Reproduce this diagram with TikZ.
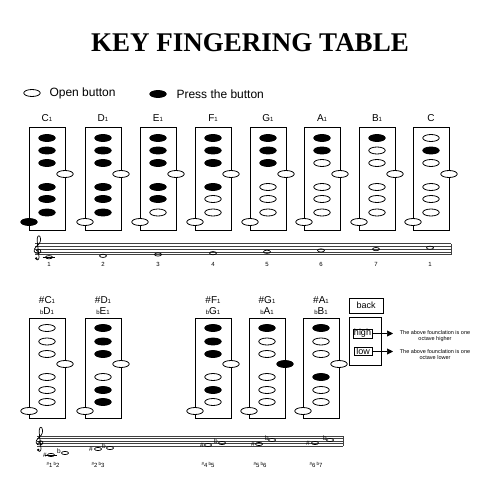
\documentclass[tikz,border=0pt]{standalone}
\usepackage{fontspec}
\setmainfont{Liberation Sans}
\newfontfamily\titlefont{Liberation Serif}
\usetikzlibrary{positioning,shapes.geometric,arrows.meta}

\newcommand{\sn}[1]{{\fontsize{6}{6}\selectfont #1}}
\newcommand{\acc}[1]{\raisebox{1.5pt}{\fontsize{4.5}{4.5}\selectfont #1}}

% treble clef: x, y of the bottom staff line
\newcommand{\gclef}[2]{%
  \begin{scope}[shift={(#1pt,-#2pt)},x=5pt,y=3pt]
    \draw[line width=0.7pt] (0.55,1.0)
      .. controls (0.2,1.0) and (0.2,1.7) .. (0.65,1.75)
      .. controls (1.3,1.8) and (1.4,0.5) .. (0.65,0.35)
      .. controls (-0.3,0.2) and (-0.4,1.7) .. (0.2,2.5)
      .. controls (0.7,3.2) and (1.2,4.0) .. (1.1,5.3)
      .. controls (1.05,6.6) and (0.5,6.5) .. (0.45,5.3)
      .. controls (0.4,4.0) and (0.75,0.5) .. (0.8,-1.0)
      .. controls (0.85,-2.0) and (0.1,-2.0) .. (0.1,-1.3);
    \fill (0.25,-1.3) circle (1.3pt);
  \end{scope}}

\begin{document}
\begin{tikzpicture}[x=1pt,y=-1pt,
    keybox/.style={draw,line width=0.7pt,minimum width=36pt,inner sep=0},
    keyo/.style={ellipse,draw,fill=white,line width=0.8pt,minimum width=16.5pt,minimum height=7pt,inner sep=0},
    keyp/.style={keyo,fill=black},
    collab/.style={font=\fontsize{10}{10}\selectfont,inner sep=0},
    whole/.style={ellipse,draw,line width=0.7pt,minimum width=7pt,minimum height=3.2pt,inner sep=0},
    numlab/.style={font=\fontsize{6}{6}\selectfont,inner sep=0},
    accid/.style={font=\fontsize{6.5}{6.5}\selectfont,inner sep=0},
    staffline/.style={line width=0.5pt,black!75}]

   \useasboundingbox (0,0) rectangle (500,500);
   \fill[white] (0,0) rectangle (500,500);

   \node[font=\titlefont\bfseries\fontsize{27}{27}\selectfont] at (250,43) (title) {KEY FINGERING TABLE};

   % legend
   \node[keyo] at (32,93) (lopen) {};
   \node[anchor=west,font=\fontsize{12}{12}\selectfont] at (46,93) (lopentxt) {Open button};
   \node[keyp] at (158,94) (lpress) {};
   \node[anchor=west,font=\fontsize{12}{12}\selectfont] at (173,94) (lpresstxt) {Press the button};

   % first row
   \foreach \cx/\nm/\lab/\ks in {47/c1/C\sn1/{p,p,p,o,p,p,p,p},
                                 103/d1/D\sn1/{p,p,p,o,p,p,p,o},
                                 158/e1/E\sn1/{p,p,p,o,p,p,o,o},
                                 213/f1/F\sn1/{p,p,p,o,p,o,o,o},
                                 268/g1/G\sn1/{p,p,p,o,o,o,o,o},
                                 322/a1/A\sn1/{p,p,o,o,o,o,o,o},
                                 377/b1/B\sn1/{p,o,o,o,o,o,o,o},
                                 431/c2/C/{o,p,o,o,o,o,o,o}} {
     \node[collab] at (\cx,118) (\nm-lab) {\lab};
     \node[keybox,minimum height=103pt] at (\cx,178.5) (\nm) {};
     \foreach \st [count=\k] in \ks {
       \pgfmathsetmacro\dx{{0,0,0,18,0,0,0,-18}[\k-1]}
       \pgfmathsetmacro\dy{{11,23.5,36,47,60,72,85.5,95}[\k-1]}
       \node[key\st] at (\cx+\dx,127+\dy) (\nm-\k) {};
     }
   }

   % first staff
   \foreach \i in {0,...,4}
     \draw[staffline] (35,{254.5-2.7*\i}) -- (451,{254.5-2.7*\i});
   \draw[staffline] (451,254.5) -- (451,243.7);
   \gclef{35}{254.5}
   \foreach \nx/\ny/\num [count=\k] in {49/257.2/1,103/255.85/2,158/254.5/3,213/253.15/4,
                                        267/251.8/5,321/250.45/6,376/249.1/7,430/247.75/1} {
     \node[whole] at (\nx,\ny) (n\k) {};
     \node[numlab] at (\nx,264) (num\k) {\num};
   }
   \draw[line width=0.6pt] ([xshift=-2.5pt]n1.west) -- ([xshift=2.5pt]n1.east);

   % second row
   \foreach \cx/\nm/\laba/\labb/\ks in {47/cis/\#C\sn1/\sn{b}D\sn1/{o,o,o,o,o,o,o,o},
                                        103/dis/\#D\sn1/\sn{b}E\sn1/{p,p,p,o,o,p,p,o},
                                        213/fis/\#F\sn1/\sn{b}G\sn1/{p,p,p,o,o,p,o,o},
                                        267/gis/\#G\sn1/\sn{b}A\sn1/{p,o,o,p,o,o,o,o},
                                        321/ais/\#A\sn1/\sn{b}B\sn1/{p,o,o,o,p,o,o,o}} {
     \node[collab] at (\cx,300) (\nm-laba) {\laba};
     \node[collab] at (\cx,311) (\nm-labb) {\labb};
     \node[keybox,minimum height=100pt] at (\cx,368) (\nm) {};
     \foreach \st [count=\k] in \ks {
       \pgfmathsetmacro\dx{{0,0,0,18,0,0,0,-18}[\k-1]}
       \pgfmathsetmacro\dy{{10,23.5,36,46,59,72,84,93}[\k-1]}
       \node[key\st] at (\cx+\dx,318+\dy) (\nm-\k) {};
     }
   }

   % back / high / low
   \node[draw,line width=0.6pt,minimum width=34pt,minimum height=15pt,font=\fontsize{9}{9}\selectfont] at (366,305.5) (back) {back};
   \node[draw,line width=0.6pt,minimum width=32pt,minimum height=48pt] at (365,341) (octbox) {};
   \node[draw,line width=0.6pt,inner sep=0.5pt,minimum width=19pt,font=\fontsize{9}{9}\selectfont] at (362.5,333.5) (high) {high};
   \node[draw,line width=0.6pt,inner sep=0.5pt,minimum width=18pt,font=\fontsize{9}{9}\selectfont] at (363,351.5) (low) {low};
   \coordinate (hightip) at (393,333.5);
   \coordinate (lowtip) at (393,351.5);
   \draw[line width=0.6pt,-{Triangle[length=6pt,width=6pt]}] (high) -- (hightip);
   \draw[line width=0.6pt,-{Triangle[length=6pt,width=6pt]}] (low) -- (lowtip);
   \node[align=center,font=\fontsize{5.5}{6.5}\selectfont] at (435,336) (hightxt) {The above founclation is one\\octave higher};
   \node[align=center,font=\fontsize{5.5}{6.5}\selectfont] at (435,354.5) (lowtxt) {The above founclation is one\\octave lower};

   % second staff
   \foreach \i in {0,...,4}
     \draw[staffline] (37,{446-2.5*\i}) -- (343,{446-2.5*\i});
   \draw[staffline] (343,446) -- (343,436);
   \gclef{37}{446}
   \foreach \sx/\ax/\ay/\fx/\bx/\by/\lx/\na/\nb [count=\k] in
       {45/51/455/59/65/453/53/1/2, 91/98/449/104/110/448/98/2/3,
        202/208/445/216/222/443/208/4/5, 253/259/444/267/272/440/260/5/6,
        308/315/443/325/330/440/316/6/7} {
     \node[accid] at (\sx,\ay) (sh\k) {\#};
     \node[whole] at (\ax,\ay) (ns\k) {};
     \node[accid] at (\fx,\by-1.5) (fl\k) {b};
     \node[whole] at (\bx,\by) (nf\k) {};
     \node[numlab] at (\lx,465) (pair\k) {\acc{\#}\na\,\acc{b}\nb};
   }
   \draw[line width=0.6pt] ([xshift=-2.5pt]ns1.west) -- ([xshift=2.5pt]ns1.east);
\end{tikzpicture}
\end{document}
